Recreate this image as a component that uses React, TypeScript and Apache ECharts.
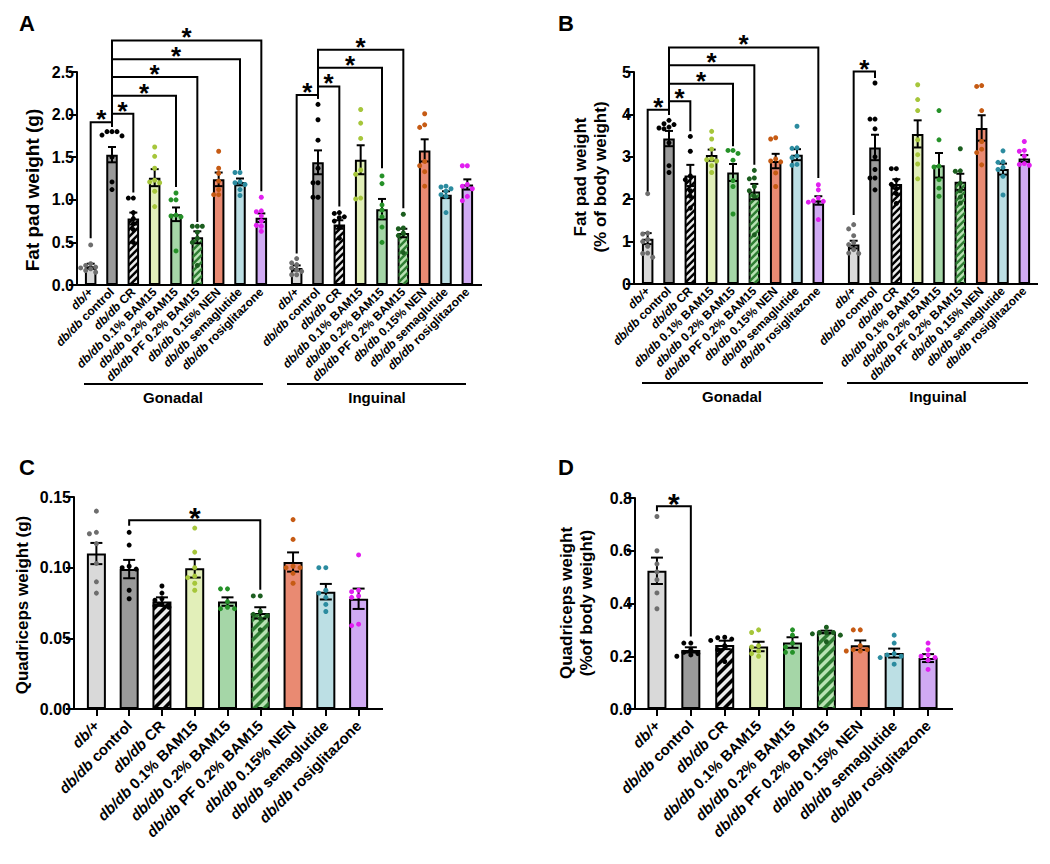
import { useEffect, useRef } from 'react';
import * as echarts from 'echarts';

const FONT = '"Liberation Sans", Arial, Helvetica, sans-serif';

const groups = [
  'db/+', 'db/db control', 'db/db CR', 'db/db 0.1% BAM15', 'db/db 0.2% BAM15',
  'db/db PF 0.2% BAM15', 'db/db 0.15% NEN', 'db/db semaglutide', 'db/db rosiglitazone',
];

// Panel A — fat pad weight (g)
const fatGonadalMean = [0.22, 1.53, 0.78, 1.26, 0.83, 0.56, 1.24, 1.21, 0.79];
const fatGonadalSem = [0.03, 0.09, 0.07, 0.1, 0.08, 0.07, 0.08, 0.04, 0.05];
const fatGonadalPts = [
  [0.47, 0.25, 0.23, 0.21, 0.19, 0.17, 0.15, 0.2],
  [1.8, 1.8, 1.8, 1.76, 1.75, 1.5, 1.21, 1.12],
  [1.02, 1.02, 0.85, 0.78, 0.72, 0.65, 0.5],
  [1.62, 1.51, 1.37, 1.23, 1.21, 1.2, 1.1, 0.92],
  [1.08, 1.0, 1.0, 0.82, 0.81, 0.8, 0.4],
  [0.69, 0.69, 0.69, 0.62, 0.55, 0.5, 0.23],
  [1.57, 1.37, 1.31, 1.22, 1.12, 1.06, 1.06],
  [1.32, 1.32, 1.21, 1.2, 1.18, 1.12, 1.05],
  [1.03, 0.87, 0.86, 0.81, 0.75, 0.7, 0.69, 0.63],
];
const fatInguinalMean = [0.2, 1.44, 0.71, 1.47, 0.89, 0.61, 1.58, 1.06, 1.18];
const fatInguinalSem = [0.03, 0.14, 0.05, 0.17, 0.12, 0.05, 0.13, 0.04, 0.06];
const fatInguinalPts = [
  [0.31, 0.26, 0.24, 0.2, 0.18, 0.16, 0.12, 0.12],
  [2.12, 1.94, 1.7, 1.37, 1.2, 1.2, 1.03, 1.03],
  [0.85, 0.84, 0.8, 0.79, 0.75, 0.68, 0.55],
  [2.06, 1.9, 1.72, 1.35, 1.3, 1.02, 1.01],
  [1.28, 1.19, 0.94, 0.88, 0.8, 0.68, 0.5],
  [0.83, 0.67, 0.66, 0.61, 0.58, 0.38],
  [2.01, 1.88, 1.85, 1.45, 1.4, 1.33, 1.16],
  [1.16, 1.15, 1.13, 1.1, 1.06, 1.04, 0.85],
  [1.4, 1.4, 1.18, 1.16, 1.13, 1.04, 0.99],
];
// brackets: [from, to, top, leftEnd, rightEnd]
const fatGonadalBrackets = [
  [0, 1, 1.91, 0.55, 1.86], [1, 2, 2.01, 1.86, 1.085], [1, 4, 2.22, 1.86, 1.15],
  [1, 5, 2.44, 1.86, 0.74], [1, 7, 2.65, 1.86, 1.35], [1, 8, 2.87, 1.86, 1.1],
];
const fatInguinalBrackets = [
  [0, 1, 2.23, 0.37, 2.19], [1, 2, 2.33, 2.19, 0.92], [1, 4, 2.55, 2.19, 1.37], [1, 5, 2.76, 2.19, 0.9],
];

// Panel B — fat pad weight (% of body weight)
const fatPctGonadalMean = [1.07, 3.43, 2.56, 3.04, 2.63, 2.18, 2.9, 3.05, 1.97];
const fatPctGonadalSem = [0.13, 0.18, 0.25, 0.13, 0.2, 0.18, 0.17, 0.13, 0.1];
const fatPctGonadalPts = [
  [2.13, 1.2, 1.18, 1.05, 1.0, 0.89, 0.73, 0.72, 0.63],
  [3.86, 3.78, 3.76, 3.7, 3.68, 3.66, 3.33, 2.79, 2.63],
  [3.48, 3.13, 2.55, 2.46, 2.2, 2.07, 1.79],
  [3.6, 3.42, 3.18, 2.95, 2.93, 2.9, 2.79, 2.63],
  [3.15, 3.15, 3.08, 2.92, 2.44, 2.3, 1.65],
  [2.68, 2.5, 2.48, 2.3, 2.2, 2.07, 1.16],
  [3.45, 3.42, 2.95, 2.9, 2.88, 2.62, 2.3],
  [3.72, 3.21, 3.2, 3.02, 2.98, 2.82, 2.8],
  [2.34, 2.22, 2.03, 1.96, 1.95, 1.93, 1.52],
];
const fatPctInguinalMean = [0.93, 3.22, 2.36, 3.54, 2.8, 2.41, 3.68, 2.71, 2.96];
const fatPctInguinalSem = [0.09, 0.3, 0.11, 0.32, 0.29, 0.19, 0.3, 0.13, 0.08];
const fatPctInguinalPts = [
  [1.4, 1.3, 1.14, 0.98, 0.93, 0.81, 0.73, 0.72],
  [4.74, 3.89, 3.89, 3.66, 3.0, 2.7, 2.5, 2.5, 2.22],
  [2.72, 2.72, 2.45, 2.35, 2.25, 2.13, 1.9],
  [4.7, 4.35, 4.09, 3.4, 3.05, 2.83, 2.48],
  [4.09, 3.4, 2.78, 2.76, 2.46, 2.26, 2.07],
  [3.19, 2.67, 2.66, 2.38, 2.2, 2.05, 1.91],
  [4.68, 4.66, 4.09, 3.36, 3.18, 3.1, 2.81],
  [3.14, 2.88, 2.87, 2.75, 2.7, 2.54, 2.1],
  [3.36, 3.15, 3.13, 3.02, 2.84, 2.82, 2.8],
];
const fatPctGonadalBrackets = [
  [0, 1, 4.11, 2.18, 3.99], [1, 2, 4.31, 3.99, 3.6], [1, 4, 4.72, 3.99, 3.25],
  [1, 5, 5.16, 3.99, 2.81], [1, 8, 5.58, 3.99, 2.5],
];
const fatPctInguinalBrackets = [[0, 1, 5.01, 1.63, 4.86]];

// Panel C — quadriceps weight (g)
const quadMean = [0.11, 0.099, 0.076, 0.0995, 0.076, 0.068, 0.104, 0.083, 0.078];
const quadSem = [0.0075, 0.0065, 0.003, 0.0065, 0.003, 0.004, 0.0068, 0.0055, 0.0072];
const quadPts = [
  [0.14, 0.125, 0.124, 0.117, 0.103, 0.09, 0.082],
  [0.125, 0.116, 0.101, 0.1, 0.099, 0.084, 0.078],
  [0.087, 0.082, 0.078, 0.077, 0.074, 0.073, 0.072],
  [0.128, 0.111, 0.1, 0.094, 0.093, 0.089, 0.084],
  [0.085, 0.085, 0.076, 0.072, 0.071, 0.071],
  [0.08, 0.08, 0.069, 0.067, 0.066, 0.064, 0.056],
  [0.134, 0.12, 0.101, 0.1, 0.1, 0.096, 0.089],
  [0.1, 0.1, 0.084, 0.082, 0.079, 0.074, 0.069],
  [0.109, 0.084, 0.083, 0.08, 0.079, 0.06, 0.059],
];
const quadBrackets = [[1, 5, 0.1335, 0.1297, 0.0844]];

// Panel D — quadriceps weight (% of body weight)
const quadPctMean = [0.524, 0.224, 0.243, 0.237, 0.252, 0.292, 0.242, 0.212, 0.193];
const quadPctSem = [0.05, 0.01, 0.016, 0.018, 0.02, 0.005, 0.018, 0.017, 0.015];
const quadPctPts = [
  [0.73, 0.6, 0.55, 0.52, 0.49, 0.44, 0.38],
  [0.25, 0.25, 0.225, 0.215, 0.21, 0.205, 0.2],
  [0.272, 0.27, 0.265, 0.26, 0.24, 0.225, 0.18],
  [0.3, 0.29, 0.24, 0.235, 0.22, 0.21, 0.2],
  [0.3, 0.28, 0.25, 0.235, 0.215, 0.215],
  [0.31, 0.29, 0.29, 0.29, 0.285, 0.28, 0.255],
  [0.3, 0.3, 0.24, 0.225, 0.225, 0.22, 0.22],
  [0.28, 0.25, 0.21, 0.205, 0.2, 0.195, 0.17],
  [0.25, 0.225, 0.205, 0.2, 0.195, 0.185, 0.15],
];
const quadPctBrackets = [[0, 1, 0.769, 0.75, 0.275]];

const FILLS = ['#d9d9d9', '#9a9a9a', '#ebebeb', '#e2efb9', '#a5d6a7', '#b8e2b3', '#e98a72', '#bcdfe4', '#d0aaf3'];
const DOTS = ['#6e6e6e', '#000000', '#000000', '#a6c63b', '#259128', '#1c5e1f', '#c65b14', '#2b8b9f', '#e11ff0'];
const HATCH: (string | null)[] = [null, null, '#000000', null, null, '#2e7d32', null, null, null];

function swarm(ys: number[], step: number, minD: number): number[] {
  const idx = ys.map((_, i) => i).sort((a, b) => ys[a] - ys[b]);
  const placed: number[][] = [];
  const xs = ys.map(() => 0);
  for (const i of idx) {
    const y = ys[i];
    for (let k = 0; k < 40; k++) {
      const off = k === 0 ? 0 : (k % 2 === 1 ? -1 : 1) * Math.ceil(k / 2) * step;
      if (placed.every(([px, py]) => (px - off) ** 2 + (py - y) ** 2 >= minD * minD)) {
        xs[i] = off;
        placed.push([off, y]);
        break;
      }
    }
  }
  return xs;
}

function clipHalf(poly: number[][], f: (p: number[]) => number): number[][] {
  const out: number[][] = [];
  for (let i = 0; i < poly.length; i++) {
    const a = poly[i];
    const b = poly[(i + 1) % poly.length];
    const fa = f(a);
    const fb = f(b);
    if (fa >= 0) out.push(a);
    if ((fa >= 0) !== (fb >= 0)) {
      const t = fa / (fa - fb);
      out.push([a[0] + t * (b[0] - a[0]), a[1] + t * (b[1] - a[1])]);
    }
  }
  return out;
}

// diagonal "/" stripes inside a rectangle
function hatch(x0: number, y0: number, x1: number, y1: number, period: number, w: number, color: string) {
  const rect = [[x0, y0], [x1, y0], [x1, y1], [x0, y1]];
  const res: any[] = [];
  const start = Math.floor((x0 + y0) / period) * period - period;
  for (let c = start; c <= x1 + y1; c += period) {
    let p = clipHalf(rect, (q) => q[0] + q[1] - c);
    p = clipHalf(p, (q) => c + w - q[0] - q[1]);
    if (p.length >= 3) res.push({ type: 'polygon', shape: { points: p }, style: { fill: color } });
  }
  return res;
}

function panelSeries(gi: number, mean: number[], sem: number[], pts: number[][], brackets: number[][], o: any) {
  const ls = { stroke: '#000', lineWidth: 2 };
  return [
    {
      type: 'bar', xAxisIndex: gi, yAxisIndex: gi, barWidth: o.barW, silent: true,
      data: mean.map((m, i) => ({
        value: m,
        itemStyle: { color: FILLS[i], borderColor: '#000', borderWidth: 2 },
      })),
    },
    {
      type: 'custom', xAxisIndex: gi, yAxisIndex: gi, silent: true, z: 3,
      data: mean.map((m, i) => [i, m, sem[i]]),
      encode: { x: 0, y: 1 },
      renderItem: (params: any, api: any) => {
        const i = api.value(0);
        const m = api.value(1);
        const s = api.value(2);
        const top = api.coord([i, m + s]);
        const bot = api.coord([i, m - s]);
        const barTop = api.coord([i, m]);
        const base = api.coord([i, 0]);
        const cx = top[0];
        const hw = o.capW / 2;
        const children: any[] = [];
        if (HATCH[i]) {
          const bw = o.barW / 2 - 1;
          children.push(...hatch(cx - bw, barTop[1] + 1, cx + bw, base[1] - 1, o.hp, o.hw, HATCH[i] as string));
        }
        children.push(
          { type: 'line', shape: { x1: cx, y1: top[1], x2: cx, y2: bot[1] }, style: ls },
          { type: 'line', shape: { x1: cx - hw, y1: top[1], x2: cx + hw, y2: top[1] }, style: ls },
          { type: 'line', shape: { x1: cx - hw, y1: bot[1], x2: cx + hw, y2: bot[1] }, style: ls },
        );
        const ys = pts[i].map((v) => api.coord([i, v])[1]);
        const xs = swarm(ys, o.step, o.minD);
        ys.forEach((y, k) => {
          children.push({ type: 'circle', shape: { cx: cx + xs[k], cy: y, r: o.r }, style: { fill: DOTS[i] } });
        });
        return { type: 'group', children };
      },
    },
    {
      type: 'custom', xAxisIndex: gi, yAxisIndex: gi, silent: true, z: 4,
      data: brackets,
      encode: { x: 0, y: 2 },
      renderItem: (params: any, api: any) => {
        const a = api.value(0), b = api.value(1), t = api.value(2), lb = api.value(3), rb = api.value(4);
        const p1 = api.coord([a, lb]);
        const p2 = api.coord([a, t]);
        const p3 = api.coord([b, t]);
        const p4 = api.coord([b, rb]);
        return {
          type: 'group',
          children: [
            { type: 'polyline', shape: { points: [p1, p2, p3, p4] }, style: { stroke: '#000', lineWidth: 2, fill: null } },
            {
              type: 'text', x: (p2[0] + p3[0]) / 2, y: p2[1] + o.starDy,
              style: {
                text: '*', fill: '#000', fontSize: o.starSize, fontWeight: 'bold', fontFamily: FONT,
                align: 'center', verticalAlign: 'middle', textAlign: 'center', textVerticalAlign: 'middle',
              },
            },
          ],
        };
      },
    },
  ];
}

const labelFmt = (v: string) => (v.startsWith('db/db') ? `{i|db/db}{b|${v.slice(5)}}` : `{i|${v}}`);
const richFor = (fs: number) => ({
  i: { fontStyle: 'italic', fontWeight: 'bold', fontSize: fs, fontFamily: FONT, color: '#000' },
  b: { fontWeight: 'bold', fontSize: fs, fontFamily: FONT, color: '#000' },
});

function xCat(gi: number, fs: number, ticks: boolean, margin: number) {
  return {
    type: 'category', gridIndex: gi, data: groups,
    axisLine: { show: false },
    axisTick: ticks ? { show: true, alignWithLabel: true, length: 7, lineStyle: { color: '#000', width: 2 } } : { show: false },
    axisLabel: { interval: 0, rotate: 45, margin, color: '#000', formatter: labelFmt, rich: richFor(fs) },
    splitLine: { show: false },
  };
}

function yVal(gi: number, max: number, interval: number, dec: number, show: boolean, offset: number, fs: number) {
  return {
    type: 'value', gridIndex: gi, min: 0, max, interval, show, offset,
    axisLine: { show: true, lineStyle: { color: '#000', width: 2 } },
    axisTick: { show: true, length: 8, lineStyle: { color: '#000', width: 2 } },
    axisLabel: {
      color: '#000', fontWeight: 'bold', fontSize: fs, fontFamily: FONT, margin: 3,
      formatter: (v: number) => v.toFixed(dec),
    },
    splitLine: { show: false },
  };
}

const line = (x1: number, y1: number, x2: number, y2: number) => ({
  type: 'line', shape: { x1, y1, x2, y2 }, style: { stroke: '#000', lineWidth: 2 }, silent: true,
});
const txt = (x: number, y: number, text: string, fs: number, extra: any = {}) => ({
  type: 'text', x, y, silent: true, ...extra,
  style: {
    text, fill: '#000', fontSize: fs, fontWeight: 'bold', fontFamily: FONT,
    align: 'center', verticalAlign: 'middle', textAlign: 'center', textVerticalAlign: 'middle',
    lineHeight: 20,
  },
});

export default function App() {
  const ref = useRef<HTMLDivElement>(null);
  useEffect(() => {
    if (!ref.current) return;
    const chart = echarts.init(ref.current, null, { renderer: 'svg' });
    const oAB = { barW: 11.5, capW: 8, r: 2.5, step: 5, minD: 4.5, starSize: 26, starDy: -3, hp: 7, hw: 3.6 };
    const oCD = { barW: 19, capW: 12, r: 2.5, step: 7, minD: 5, starSize: 30, starDy: -2.5, hp: 10, hw: 5 };
    const rot = { rotation: Math.PI / 2 };
    chart.setOption({
      animation: false,
      backgroundColor: '#ffffff',
      textStyle: { fontFamily: FONT },
      grid: [
        { left: 80, top: 72, width: 192, height: 213, outerBoundsMode: 'none' },
        { left: 286, top: 72, width: 192, height: 213, outerBoundsMode: 'none' },
        { left: 637, top: 72, width: 192, height: 212, outerBoundsMode: 'none' },
        { left: 843, top: 72, width: 192, height: 212, outerBoundsMode: 'none' },
        { left: 80, top: 497, width: 295, height: 212, outerBoundsMode: 'none' },
        { left: 640, top: 498, width: 305, height: 211, outerBoundsMode: 'none' },
      ],
      xAxis: [
        xCat(0, 12, false, 5), xCat(1, 12, false, 5), xCat(2, 12, false, 5), xCat(3, 12, false, 5),
        xCat(4, 15, true, 14), xCat(5, 15, true, 14),
      ],
      yAxis: [
        yVal(0, 2.5, 0.5, 1, true, 3, 16), yVal(1, 2.5, 0.5, 1, false, 0, 16),
        yVal(2, 5, 1, 0, true, 3, 16), yVal(3, 5, 1, 0, false, 0, 16),
        yVal(4, 0.15, 0.05, 2, true, 6, 16), yVal(5, 0.8, 0.2, 1, true, 5, 16),
      ],
      series: [
        ...panelSeries(0, fatGonadalMean, fatGonadalSem, fatGonadalPts, fatGonadalBrackets, oAB),
        ...panelSeries(1, fatInguinalMean, fatInguinalSem, fatInguinalPts, fatInguinalBrackets, oAB),
        ...panelSeries(2, fatPctGonadalMean, fatPctGonadalSem, fatPctGonadalPts, fatPctGonadalBrackets, oAB),
        ...panelSeries(3, fatPctInguinalMean, fatPctInguinalSem, fatPctInguinalPts, fatPctInguinalBrackets, oAB),
        ...panelSeries(4, quadMean, quadSem, quadPts, quadBrackets, oCD),
        ...panelSeries(5, quadPctMean, quadPctSem, quadPctPts, quadPctBrackets, oCD),
      ],
      graphic: [
        line(76, 285, 482, 285),
        line(633, 284, 1038, 284),
        line(73, 709, 383, 709),
        line(634, 709, 953, 709),
        line(84, 384, 263, 384), line(287, 384, 466, 384),
        line(642, 383, 823, 383), line(847, 383, 1028, 383),
        txt(173, 397, 'Gonadal', 15), txt(377, 397, 'Inguinal', 15),
        txt(732, 396, 'Gonadal', 15), txt(938, 396, 'Inguinal', 15),
        txt(27, 23, 'A', 22), txt(566, 23, 'B', 22), txt(27, 467, 'C', 22), txt(566, 467, 'D', 22),
        txt(32, 190, 'Fat pad weight (g)', 19, rot),
        txt(590, 177, 'Fat pad weight\n(% of body weight)', 17, rot),
        txt(22, 605, 'Quadriceps weight (g)', 17, rot),
        txt(576, 603, 'Quadriceps weight\n(%of body weight)', 17, rot),
      ],
    });
    return () => chart.dispose();
  }, []);
  return <div ref={ref} style={{ position: 'absolute', left: 0, top: 0, width: 1050, height: 864 }} />;
}
